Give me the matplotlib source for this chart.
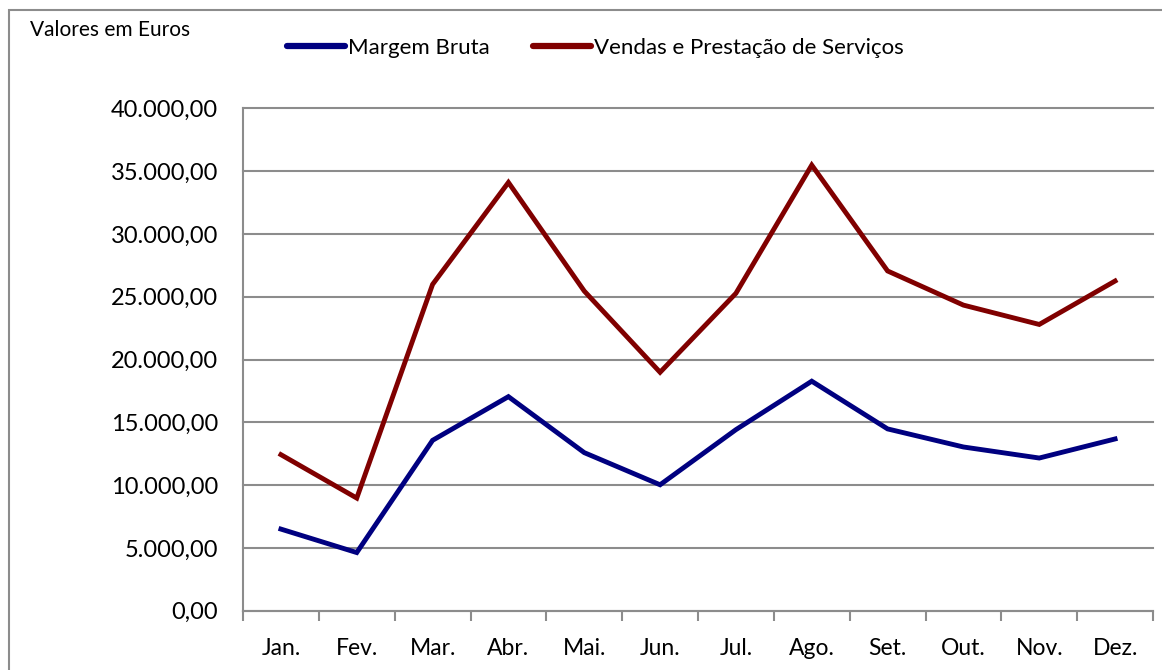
import matplotlib
matplotlib.use("Agg")
import matplotlib.pyplot as plt
from matplotlib.patches import Rectangle
from matplotlib.ticker import FuncFormatter, FixedLocator, NullFormatter
import numpy as np

months = ["Jan.", "Fev.", "Mar.", "Abr.", "Mai.", "Jun.", "Jul.", "Ago.", "Set.", "Out.", "Nov.", "Dez."]
margem_bruta = [6500, 4630, 13570, 17050, 12590, 10030, 14420, 18280, 14480, 13040, 12160, 13680]
vendas = [12430, 8970, 25990, 34110, 25460, 18990, 25280, 35490, 27060, 24340, 22800, 26260]
y_ticks = [0, 5000, 10000, 15000, 20000, 25000, 30000, 35000, 40000]

plt.rcParams['font.family'] = ['Lato', 'DejaVu Sans']

W, H = 1162, 670
fig = plt.figure(figsize=(W / 100, H / 100), dpi=100)
fig.patch.set_facecolor("white")

# outer chart frame
fig.patches.append(Rectangle((9 / W, -0.05), 1.2, 1.05 - 10 / H, transform=fig.transFigure,
                             fill=False, edgecolor="#8c8c8c", linewidth=1.5))

ax = fig.add_axes([243 / W, 1 - 610.7 / H, (1153 - 243) / W, (610.7 - 108.5) / H])
x = np.arange(len(months))
ax.plot(x, margem_bruta, color="#000080", linewidth=3.5, label="Margem Bruta", solid_joinstyle="miter")
ax.plot(x, vendas, color="#800000", linewidth=3.5, label="Vendas e Prestação de Serviços", solid_joinstyle="miter")

ax.set_xlim(-0.5, len(months) - 0.5)
ax.set_ylim(0, 40000)
ax.set_yticks(y_ticks)

def fmt(v, pos):
    s = f"{v:,.2f}"
    return s.replace(",", "X").replace(".", ",").replace("X", ".")

ax.yaxis.set_major_formatter(FuncFormatter(fmt))
ax.tick_params(axis="y", length=0, labelsize=17, pad=18)
ax.grid(axis="y", color="#8c8c8c", linewidth=1.5)
for gl in ax.get_ygridlines():
    gl.set_clip_on(False)
ax.set_axisbelow(True)

ax.xaxis.set_major_locator(FixedLocator(np.arange(-0.5, len(months), 1.0)))
ax.xaxis.set_major_formatter(NullFormatter())
ax.xaxis.set_minor_locator(FixedLocator(x))
ax.set_xticklabels(months, minor=True)
ax.tick_params(axis="x", which="major", length=7, width=1.5, color="#8c8c8c", direction="out")
ax.tick_params(axis="x", which="minor", length=0, labelsize=16.5, pad=20)

for s in ["top", "right"]:
    ax.spines[s].set_visible(False)
for s in ["left", "bottom"]:
    ax.spines[s].set_color("#8c8c8c")
    ax.spines[s].set_linewidth(1.5)

fig.text(30 / W, 1 - 30 / H, "Valores em Euros", fontsize=15, va="center", ha="left")

leg = fig.legend(loc="center left", bbox_to_anchor=(287 / W, 1 - 48 / H), ncol=2, frameon=False,
                 fontsize=16, handlelength=2.6, handletextpad=0.15, columnspacing=1.95,
                 borderaxespad=0, borderpad=0)
for line in leg.get_lines():
    line.set_linewidth(4.5)
    line.set_solid_capstyle("round")

fig.savefig("out.png", dpi=100, facecolor="white")
